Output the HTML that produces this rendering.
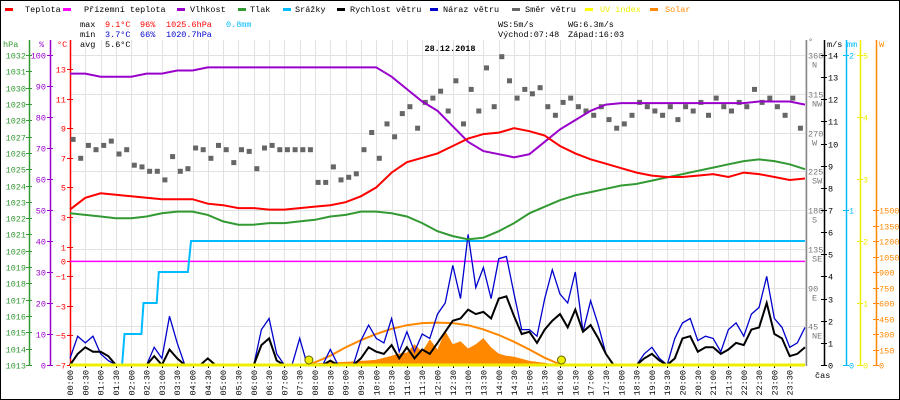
<!DOCTYPE html>
<html><head><meta charset="utf-8">
<style>
html,body{margin:0;padding:0;background:#fff;}
#wrap{position:relative;width:900px;height:400px;overflow:hidden;}
svg text{font-family:"Liberation Mono",monospace;font-size:8.5px;}
</style></head>
<body>
<div id="wrap">
<svg id="chart" width="900" height="400" viewBox="0 0 900 400"></svg>
</div>
<script>
// ---- data ----
const tempC = [3.5,4.3,4.6,4.5,4.4,4.3,4.2,4.2,4.2,3.9,3.8,3.6,3.6,3.5,3.5,3.6,3.7,3.8,4.0,4.4,5.0,6.0,6.7,7.0,7.3,7.8,8.3,8.6,8.7,9.0,8.8,8.5,7.8,7.3,6.9,6.6,6.3,6.0,5.8,5.7,5.7,5.8,5.9,5.7,6.0,5.9,5.7,5.5,5.6];
const feelsC = [0,0,0,0,0,0,0,0,0,0,0,0,0,0,0,0,0,0,0,0,0,0,0,0,0,0,0,0,0,0,0,0,0,0,0,0,0,0,0,0,0,0,0,0,0,0,0,0,0];
const humidity = [94,94,93,93,93,94,94,95,95,96,96,96,96,96,96,96,96,96,96,96,96,93,89,85,82,77,72,69,68,67,68,72,76,79,82,84,84.5,84.5,84.5,84.5,84.5,84.5,84.5,84.5,84.5,85,85,85,84];
const pressure = [1022.3,1022.2,1022.1,1022.0,1022.0,1022.1,1022.3,1022.4,1022.4,1022.2,1021.8,1021.6,1021.6,1021.7,1021.7,1021.8,1021.9,1022.1,1022.2,1022.4,1022.4,1022.3,1022.1,1021.7,1021.2,1020.9,1020.7,1020.8,1021.2,1021.7,1022.3,1022.7,1023.1,1023.4,1023.6,1023.8,1024.0,1024.1,1024.3,1024.5,1024.7,1024.9,1025.1,1025.3,1025.5,1025.6,1025.5,1025.3,1025.0];
const rainTimes = [0,1.70,1.78,2.33,2.40,2.83,2.90,3.85,3.95,24];
const rainMm = [0,0,0.2,0.2,0.4,0.4,0.6,0.6,0.8,0.8];
const windSpeed = [0,0.5,0.8,0.6, 0.6,0.4,0,0, 0,0,0,0.4, 0,0.7,0.3,0, 0,0,0.3,0, 0,0,0,0, 0,0.9,1.2,0.2, 0,0,0,0, 0,0,0.2,0, 0,0,0.3,0.8, 0.6,0.5,0.9,0.3, 0.8,0.3,0.7,0.5, 1.0,1.5,2.0,2.1, 2.5,2.3,2.4,2.1, 3.0,3.1,2.2,1.4, 1.5,1.0,1.6,2.0, 2.3,1.7,2.5,1.5, 1.8,1.2,0.5,0, 0,0,0,0.3, 0.5,0.2,0,0.3, 1.2,1.3,0.6,0.8, 0.8,0.5,0.7,1.0, 0.9,1.6,1.7,2.8, 1.4,1.2,0.4,0.5, 0.8];
const windGust = [0.3,1.3,1.0,1.3, 0.5,0.2,0,0, 0,0,0,0.8, 0.3,2.2,1.0,0, 0,0,0,0, 0,0,0,0, 0,1.6,2.1,0.5, 0,0,1.2,0, 0,0,0.7,0, 0,0,1.1,1.8, 1.2,1.0,2.1,0.6, 1.5,0.6,1.4,1.2, 2.3,2.8,4.5,3.0, 5.9,3.5,4.4,3.0, 4.8,4.9,3.2,1.6, 1.6,1.3,3.0,4.3, 3.2,2.8,4.2,1.5, 2.9,1.8,0.5,0, 0,0,0,0.5, 0.8,0.3,0,1.2, 1.9,2.1,1.1,1.3, 1.2,0.6,1.6,1.9, 1.3,2.3,2.6,4.0, 2.1,1.7,0.8,1.0, 1.7];
const windDir = [262,240,255,250, 255,260,245,250, 232,230,225,225, 215,242,225,228, 252,250,240,255, 250,235,250,248, 228,252,255,250, 250,250,250,250, 212,212,230,215, 218,222,250,270, 240,280,265,292, 300,275,305,310, 318,295,330,280, 320,295,345,300, 358,330,310,320, 315,322,300,290, 305,310,300,295, 290,300,285,275, 280,290,305,300, 295,290,300,285, 300,295,305,290, 310,300,295,305, 300,320,305,310, 300,290,310,275];
const solarW = [0,0,0,0,0,0,0,0, 0,0,0,0,0,0,0,0, 0,0,0,0,0,0,0,0, 0,0,0,0,0,0,0,10, 15,20,25,28, 30,35,40,45, 50,70,90,110, 120,200,130,250, 150,330,200,230, 160,200,260,170, 110,90,80,60, 40,30,20,10, 0,0,0,0, 0,0,0,0, 0,0,0,0, 0,0,0,0, 0,0,0,0, 0,0,0,0, 0,0,0,0, 0];
const clearTimes = [7.8,8.5,9,9.5,10,10.5,11,11.5,12,12.5,13,13.5,14,14.5,15,15.5,16.05];
const clearW = [0,90,170,240,300,350,385,405,410,405,385,345,290,225,150,70,0];
const uvIndex = [0,0,0,0,0,0,0,0,0,0,0,0,0,0,0,0,0,0,0,0,0,0,0,0,0,0,0,0,0,0,0,0,0,0,0,0,0,0,0,0,0,0,0,0,0,0,0,0,0];
const sunEvents = [7.8, 16.05];
const hpaTicks = [1013,1014,1015,1016,1017,1018,1019,1020,1021,1022,1023,1024,1025,1026,1027,1028,1029,1030,1031,1032];
const pctTicks = [0,10,20,30,40,50,60,70,80,90,100];
const tempTicks = [13,11,9,7,5,3,1,0,-1,-3,-5,-7];
const dirTicks = [45,90,135,180,225,270,315,360];
const dirNames = ["NE","E","SE","S","SW","W","NW","N"];
const msTicks = [0,1,2,3,4,5,6,7,8,9,10,11,12,13,14];
const mmTicks = [0,1,2];
const uvTicks = [0,1,2,3,4,5];
const wTicks = [0,150,300,450,600,750,900,1050,1200,1350,1500];

// ---- scales ----
const X0=70, X1=805, YB=365, YT=55, GT=40;
const xT = h => X0 + h/24*(X1-X0);
const yTemp = v => YB - (v+7)*(296/20);
const yHpa = v => YB - (v-1013)*(310/19);
const yPct = v => YB - v*3.1;
const yDir = v => YB - v/360*310;
const yMs = v => YB - v*(310/14);
const yMm = v => YB - v*155;
const yUv = v => YB - v*62;
const yW = v => YB - v*(155/1500);

const svg = document.getElementById('chart');
const NS='http://www.w3.org/2000/svg';
function mk(tag, attrs, parent){const e=document.createElementNS(NS,tag);for(const k in attrs)e.setAttribute(k,attrs[k]);(parent||svg).appendChild(e);return e;}
function txt(x,y,s,fill,anchor,extra){const t=mk('text',Object.assign({x:x,y:y,fill:fill||'#000','text-anchor':anchor||'start'},extra||{}));t.textContent=s;return t;}

let e = mk('rect',{x:0.5,y:0.5,width:899,height:399,fill:'none',stroke:'#000'});



const grid = mk('g',{stroke:'#e2e2e2','stroke-width':1});


for(let i=1;i<=48;i++){const x=Math.round(xT(i/2))+0.5;mk('line',{x1:x,y1:GT,x2:x,y2:YB},grid);}
for(let k=1;k<=8;k++){const y=Math.round(YB-k*38.75)+0.5;mk('line',{x1:X0,y1:y,x2:X1,y2:y},grid);}

const legend=[["Teplota","#f00",5,25],["Přízemní teplota","#f0f",63,84],["Vlhkost","#90c",177,190],["Tlak","#393",238,250],["Srážky","#0bf",283,295],["Rychlost větru","#000",337,350],["Náraz větru","#00c",430,443],["Směr větru","#666",512,525],["UV index","#ff0",585,600],["Solar","#f80",650,665]];
legend.forEach(l=>{
  const g=mk('g',{});
  
  
  mk('rect',{x:l[2],y:8,width:8,height:3,fill:l[1]},g);
  const t=txt(l[3],12,l[0],l[1]==='#ff0'?'#ee0':(l[1]==='#f80'?'#f80':'#000'),'start',{});
  g.appendChild(t);
});

const stats=mk('g',{});


[[80,27,"max","#000"],[105,27,"9.1°C","#f00"],[140,27,"96%","#f00"],[166,27,"1025.6hPa","#f00"],[226,27,"0.8mm","#0bf"],
 [80,37,"min","#000"],[105,37,"3.7°C","#00c"],[140,37,"66%","#00c"],[166,37,"1020.7hPa","#00c"],
 [80,47,"avg","#000"],[105,47,"5.6°C","#000"],
 [498,27,"WS:5m/s","#000"],[568,27,"WG:6.3m/s","#000"],[498,37,"Východ:07:48","#000"],[568,37,"Západ:16:03","#000"]].forEach(s=>stats.appendChild(txt(s[0],s[1],s[2],s[3])));
e=txt(450,51,"28.12.2018","#000","middle",{'font-weight':'bold','font-size':'12px'});



function vAxis(x,ticks,yf,col,labX,anchor,name){
  const g=mk('g',{});
  
  
  mk('line',{x1:x+0.5,y1:GT,x2:x+0.5,y2:YB+1,stroke:col,'stroke-width':1.5},g);
  ticks.forEach(v=>{const y=Math.round(yf(v))+0.5;mk('line',{x1:x-3,y1:y,x2:x+3,y2:y,stroke:col},g);g.appendChild(txt(labX,y+3,String(v).replace('-','−'),col,anchor));});
  return g;
}
vAxis(29,hpaTicks,yHpa,'#393',26,'end','hpa-axis');
vAxis(50,pctTicks,yPct,'#90c',46,'end','humidity-axis');
vAxis(70,tempTicks,yTemp,'#f00',66,'end','temp-axis');
txt(3,47,"hPa","#393");txt(39,47,"%","#90c");txt(57,47,"°C","#f00");
const ga=vAxis(806,[],yDir,'#888',0,'start','direction-axis');
dirTicks.forEach((v,i)=>{const y=Math.round(yDir(v))+0.5;ga.appendChild(txt(808,y+3,String(v),'#777'));ga.appendChild(txt(812,y+12,dirNames[i],'#777'));});
vAxis(824,msTicks,yMs,'#000',828,'start','wind-speed-axis');
vAxis(846,mmTicks,yMm,'#0bf',849,'start','rain-axis');
vAxis(860,uvTicks,yUv,'#ee0',863,'start','uv-axis');
vAxis(876,wTicks,yW,'#f80',879,'start','solar-axis');
txt(808,44,"°","#777");txt(827,47,"m/s","#000");txt(847,47,"mm","#0bf");txt(879,47,"W","#f80");
txt(815,378,"čas","#000");

const xl=mk('g',{});


for(let i=0;i<48;i++){const h=Math.floor(i/2),m=i%2?'30':'00';const x=xT(i/2)+3;
  const t=txt(0,0,(h<10?'0':'')+h+':'+m,'#000','end',{transform:`translate(${x},370) rotate(-90)`});xl.appendChild(t);
  mk('line',{x1:Math.round(xT(i/2))+0.5,y1:YB,x2:Math.round(xT(i/2))+0.5,y2:YB+3,stroke:'#000'},xl);}

const half = i=>i/2, qtr=i=>i/4;
function path(vals,tf,yf){return vals.map((v,i)=>(i?'L':'M')+xT(tf(i)).toFixed(1)+','+yf(v).toFixed(1)).join('');}

let sd='M'+xT(0)+','+YB;solarW.forEach((v,i)=>{sd+='L'+xT(qtr(i)).toFixed(1)+','+yW(v).toFixed(1);});sd+='L'+xT(24)+','+YB+'Z';
e=mk('path',{d:sd,fill:'#f80',stroke:'none'});


e=mk('path',{d:clearTimes.map((t,i)=>(i?'L':'M')+xT(t).toFixed(1)+','+yW(clearW[i]).toFixed(1)).join(''),fill:'none',stroke:'#f80','stroke-width':2});



e=mk('path',{d:path(feelsC,half,yTemp),fill:'none',stroke:'#f0f','stroke-width':1.5});


e=mk('path',{d:rainTimes.map((t,i)=>(i?'L':'M')+xT(t).toFixed(1)+','+yMm(rainMm[i]).toFixed(1)).join(''),fill:'none',stroke:'#0bf','stroke-width':2});


const dg=mk('g',{fill:'#666'});


windDir.forEach((v,i)=>{const r=mk('rect',{x:(xT(qtr(i)+0.1)-2.5).toFixed(1),y:(yDir(v)-2.5).toFixed(1),width:5,height:5},dg);
  
  });
e=mk('path',{d:path(windGust,qtr,yMs),fill:'none',stroke:'#00c','stroke-width':1.3});


e=mk('path',{d:path(windSpeed,qtr,yMs),fill:'none',stroke:'#000','stroke-width':2});


e=mk('path',{d:path(pressure,half,yHpa),fill:'none',stroke:'#393','stroke-width':2});


e=mk('path',{d:path(humidity,half,yPct),fill:'none',stroke:'#90c','stroke-width':2});


e=mk('path',{d:path(tempC,half,yTemp),fill:'none',stroke:'#f00','stroke-width':2});


e=mk('path',{d:path(uvIndex,half,yUv),fill:'none',stroke:'#ee0','stroke-width':3});


sunEvents.forEach(t=>{const c=mk('circle',{cx:xT(t).toFixed(1),cy:360,r:4,fill:'#ee0',stroke:'#660'});
  
  });
</script>
</body></html>
